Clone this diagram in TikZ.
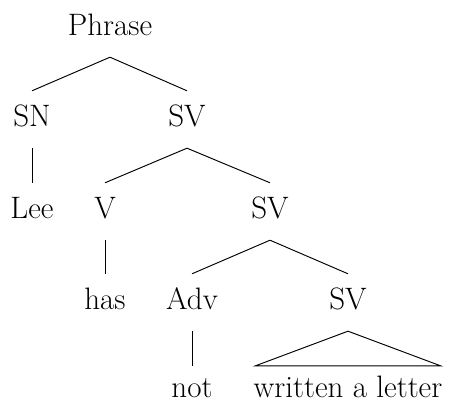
\documentclass[tikz,border=0pt]{standalone}
\begin{document}
\begin{tikzpicture}[x=1pt,y=-1pt,
  lab/.style={anchor=base,font=\fontsize{31}{37}\selectfont,text height=21pt,text depth=6pt,inner ysep=15pt,inner xsep=3pt},
  leaf/.style={lab,text depth=0pt,inner ysep=11pt},
  edge/.style={line width=0.95pt}]
\useasboundingbox (0,0) rectangle (451,403);
\node[lab] (ph) at (110,36) {Phrase};
\node[lab] (sn) at (32,127) {SN};
\node[lab] (sv1) at (187,127) {SV};
\node[lab] (lee) at (32,219) {Lee};
\node[lab] (v) at (105,219) {V};
\node[lab] (sv2) at (270,219) {SV};
\node[lab] (has) at (105,310) {has};
\node[lab] (adv) at (192,310) {Adv};
\node[lab] (sv3) at (348,310) {SV};
\node[leaf] (not) at (192,398) {not};
\node[leaf,inner xsep=-2pt] (wal) at (348,398) {written a letter};
\draw[edge] (ph.south) -- (sn.north);
\draw[edge] (ph.south) -- (sv1.north);
\draw[edge] (sn.south) -- (lee.north);
\draw[edge] (sv1.south) -- (v.north);
\draw[edge] (sv1.south) -- (sv2.north);
\draw[edge] (v.south) -- (has.north);
\draw[edge] (sv2.south) -- (adv.north);
\draw[edge] (sv2.south) -- (sv3.north);
\draw[edge] (adv.south) -- (not.north);
\draw[edge] (sv3.south) -- (wal.north west) -- (wal.north east) -- cycle;
\end{tikzpicture}
\end{document}
